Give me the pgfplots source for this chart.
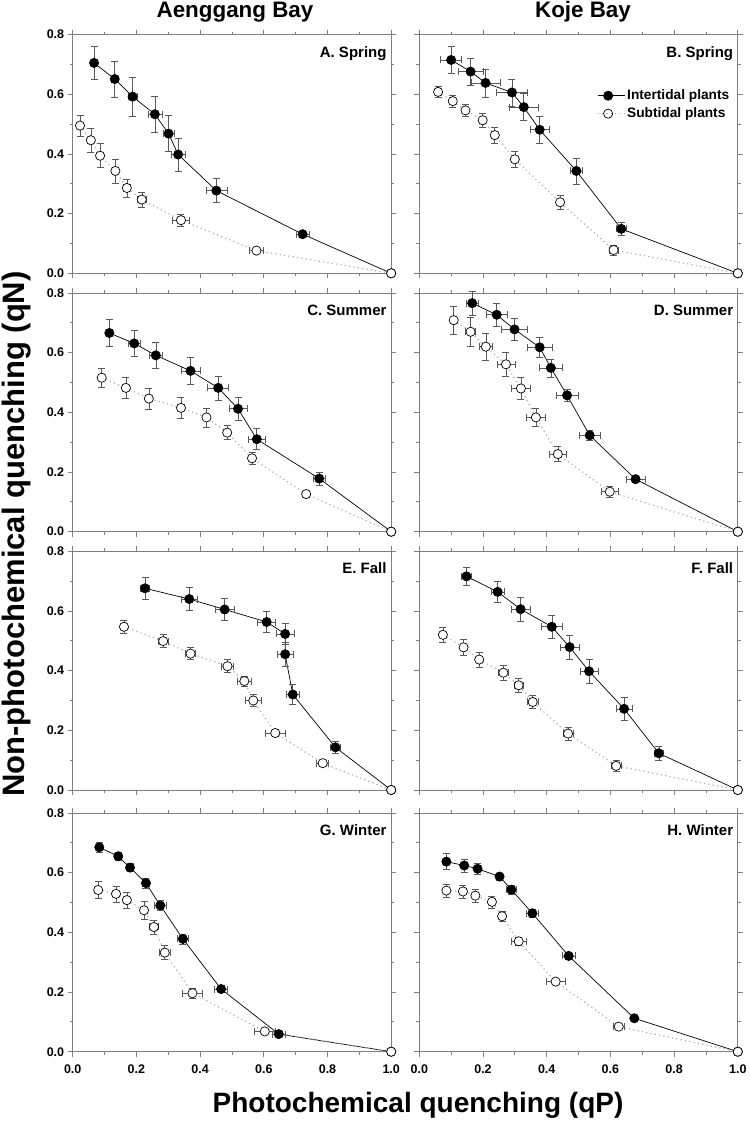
\documentclass[border=0pt]{standalone}
\usepackage{fontspec}
\setmainfont{Liberation Sans}
\usepackage{pgfplots}
\pgfplotsset{compat=1.18}
\usepackage{pgfplotstable}

\definecolor{axgray}{gray}{0.5}
\definecolor{errgray}{gray}{0.35}
\definecolor{dotgray}{gray}{0.68}

% ---------- data: x y ex ey ----------
\pgfplotstableread{
x y ex ey
0.067 0.705 0.010 0.055
0.132 0.651 0.012 0.060
0.188 0.592 0.015 0.065
0.258 0.533 0.022 0.060
0.301 0.468 0.018 0.060
0.331 0.398 0.023 0.055
0.451 0.277 0.033 0.040
0.722 0.131 0.020 0.010
1.000 0.000 0 0
}\Ai
\pgfplotstableread{
x y ex ey
0.023 0.495 0.008 0.035
0.057 0.446 0.008 0.040
0.086 0.394 0.008 0.040
0.134 0.343 0.008 0.040
0.170 0.286 0.010 0.030
0.217 0.247 0.015 0.025
0.340 0.178 0.027 0.020
0.577 0.076 0.022 0.010
1.000 0.000 0 0
}\As
\pgfplotstableread{
x y ex ey
0.100 0.715 0.033 0.045
0.161 0.676 0.040 0.045
0.208 0.638 0.045 0.047
0.291 0.606 0.049 0.045
0.328 0.557 0.045 0.045
0.378 0.481 0.031 0.046
0.493 0.343 0.020 0.044
0.634 0.149 0.015 0.022
1.000 0.000 0 0
}\Bi
\pgfplotstableread{
x y ex ey
0.059 0.608 0.008 0.018
0.105 0.577 0.008 0.021
0.145 0.546 0.008 0.020
0.199 0.513 0.008 0.024
0.237 0.463 0.008 0.027
0.300 0.382 0.008 0.028
0.442 0.238 0.008 0.024
0.610 0.078 0.015 0.017
1.000 0.000 0 0
}\Bs
\pgfplotstableread{
x y ex ey
0.115 0.666 0.010 0.045
0.193 0.631 0.020 0.043
0.261 0.591 0.020 0.043
0.370 0.539 0.030 0.044
0.457 0.482 0.033 0.040
0.519 0.412 0.028 0.040
0.578 0.310 0.026 0.035
0.774 0.178 0.020 0.022
1.000 0.000 0 0
}\Ci
\pgfplotstableread{
x y ex ey
0.091 0.516 0.008 0.033
0.167 0.482 0.008 0.034
0.239 0.446 0.008 0.035
0.340 0.415 0.008 0.035
0.420 0.383 0.008 0.032
0.485 0.332 0.008 0.023
0.563 0.246 0.008 0.020
0.733 0.126 0.008 0.010
1.000 0.000 0 0
}\Cs
\pgfplotstableread{
x y ex ey
0.166 0.766 0.020 0.040
0.243 0.727 0.034 0.037
0.299 0.678 0.040 0.036
0.378 0.618 0.040 0.034
0.413 0.549 0.035 0.030
0.464 0.457 0.035 0.020
0.535 0.323 0.033 0.018
0.679 0.176 0.030 0.011
1.000 0.000 0 0
}\Di
\pgfplotstableread{
x y ex ey
0.108 0.709 0.008 0.048
0.161 0.670 0.016 0.049
0.209 0.620 0.020 0.046
0.272 0.561 0.028 0.041
0.319 0.480 0.031 0.037
0.366 0.383 0.030 0.031
0.435 0.260 0.028 0.025
0.598 0.134 0.026 0.019
1.000 0.000 0 0
}\Ds
\pgfplotstableread{
x y ex ey
0.227 0.676 0.015 0.037
0.366 0.640 0.024 0.038
0.477 0.605 0.029 0.036
0.609 0.563 0.028 0.035
0.667 0.523 0.028 0.036
0.667 0.455 0.025 0.040
0.691 0.320 0.020 0.034
0.825 0.143 0.015 0.020
1.000 0.000 0 0
}\Ei
\pgfplotstableread{
x y ex ey
0.161 0.547 0.008 0.023
0.284 0.499 0.015 0.022
0.370 0.457 0.015 0.020
0.486 0.415 0.018 0.022
0.539 0.365 0.022 0.017
0.567 0.300 0.024 0.020
0.636 0.191 0.030 0.012
0.785 0.090 0.019 0.010
1.000 0.000 0 0
}\Es
\pgfplotstableread{
x y ex ey
0.148 0.716 0.015 0.030
0.246 0.664 0.020 0.035
0.318 0.606 0.029 0.040
0.416 0.547 0.032 0.040
0.472 0.479 0.029 0.040
0.533 0.398 0.029 0.040
0.643 0.272 0.025 0.040
0.752 0.123 0.015 0.022
1.000 0.000 0 0
}\Fi
\pgfplotstableread{
x y ex ey
0.074 0.520 0.008 0.025
0.139 0.478 0.008 0.027
0.188 0.437 0.008 0.026
0.264 0.393 0.015 0.024
0.312 0.351 0.015 0.022
0.356 0.295 0.018 0.021
0.467 0.189 0.016 0.021
0.618 0.081 0.015 0.018
1.000 0.000 0 0
}\Fs
\pgfplotstableread{
x y ex ey
0.0835 0.685 0.008 0.017
0.143 0.655 0.008 0.013
0.180 0.617 0.008 0.014
0.230 0.565 0.012 0.016
0.275 0.490 0.020 0.016
0.346 0.378 0.018 0.017
0.466 0.210 0.020 0.012
0.647 0.059 0.020 0.007
1.000 0.000 0 0
}\Gi
\pgfplotstableread{
x y ex ey
0.080 0.542 0.008 0.029
0.136 0.529 0.008 0.027
0.170 0.508 0.008 0.026
0.224 0.474 0.008 0.029
0.255 0.418 0.015 0.024
0.289 0.332 0.017 0.024
0.376 0.196 0.031 0.017
0.603 0.068 0.032 0.008
1.000 0.000 0 0
}\Gs
\pgfplotstableread{
x y ex ey
0.085 0.637 0.008 0.027
0.141 0.624 0.008 0.022
0.183 0.613 0.008 0.020
0.252 0.587 0.010 0.012
0.289 0.543 0.015 0.014
0.355 0.464 0.020 0.013
0.469 0.321 0.020 0.010
0.675 0.112 0.010 0.006
1.000 0.000 0 0
}\Hi
\pgfplotstableread{
x y ex ey
0.085 0.540 0.008 0.022
0.137 0.537 0.008 0.022
0.176 0.523 0.008 0.022
0.228 0.502 0.008 0.020
0.260 0.454 0.008 0.018
0.312 0.370 0.023 0.015
0.428 0.235 0.029 0.010
0.626 0.084 0.018 0.010
1.000 0.000 0 0
}\Hs

\tikzset{
  plab/.style={anchor=north east, inner sep=0pt, xshift=-4.5pt, yshift=-11.5pt,
    font=\fontsize{15}{17}\selectfont\bfseries},
}

\pgfplotsset{
  panel/.style={
    anchor=south west, scale only axis, width=318.5pt, height=238.7pt,
    xmin=0, xmax=1, ymin=0, ymax=0.8,
    xtick={0,0.2,0.4,0.6,0.8,1}, ytick={0,0.2,0.4,0.6,0.8},
    minor x tick num=1, minor y tick num=1,
    xticklabels={}, yticklabels={},
    tick align=outside, major tick length=5pt, minor tick length=3pt,
    axis line style={axgray, line width=0.8pt},
    tick style={axgray, line width=0.8pt},
    clip=false,
    ticklabel style={font=\fontsize{12.5}{14}\selectfont\bfseries},
    xticklabel style={yshift=-5pt},
  },
  xlab/.style={xticklabels={0.0,0.2,0.4,0.6,0.8,1.0}},
  ylab/.style={yticklabels={0.0,0.2,0.4,0.6,0.8}},
  inter/.style={black, line width=0.7pt, mark=*, mark size=4.6pt,
    mark options={solid, draw=black, fill=black},
    error bars/.cd, x dir=both, x explicit, y dir=both, y explicit,
    error bar style={errgray, line width=0.6pt, solid},
    error mark options={rotate=90, errgray, mark size=3.5pt, line width=0.6pt, solid}},
  sub/.style={dotgray, line width=1.2pt, dash pattern=on 1.2pt off 3.2pt,
    mark=*, mark size=4.6pt,
    mark options={solid, draw=black, fill=white, line width=0.7pt},
    error bars/.cd, x dir=both, x explicit, y dir=both, y explicit,
    error bar style={errgray, line width=0.6pt, solid},
    error mark options={rotate=90, errgray, mark size=3.5pt, line width=0.6pt, solid}},
}

\newcommand{\series}[2]{%
  \addplot[inter] table[x=x, y=y, x error=ex, y error=ey] {#1};
  \addplot[sub] table[x=x, y=y, x error=ex, y error=ey] {#2};
}

\begin{document}
\begin{tikzpicture}
\path[use as bounding box] (0pt,0pt) rectangle (749pt,1123pt);

% Row 1
\begin{axis}[panel, ylab, at={(72.7pt,849.7pt)}]
\series{\Ai}{\As}
\node[plab] at (rel axis cs:1,1) {A. Spring};
\end{axis}
\begin{axis}[panel, at={(419.3pt,849.7pt)},
  legend style={draw=none, fill=none, inner sep=0pt, at={(0.980,0.777)}, anchor=north east,
    font=\fontsize{13.7}{15}\selectfont\bfseries, row sep=2.5pt},
  legend cell align=left,
  legend image code/.code={\draw[mark repeat=2,mark phase=2,#1] plot coordinates {(0pt,0pt) (10.5pt,0pt) (21pt,0pt)};
     \path (0pt,0pt) -- (27pt,0pt);}]
\series{\Bi}{\Bs}
\legend{Intertidal plants, Subtidal plants}
\node[plab] at (rel axis cs:1,1) {B. Spring};
\end{axis}

% Row 2
\begin{axis}[panel, ylab, at={(72.7pt,591.3pt)}]
\series{\Ci}{\Cs}
\node[plab] at (rel axis cs:1,1) {C. Summer};
\end{axis}
\begin{axis}[panel, at={(419.3pt,591.3pt)}]
\series{\Di}{\Ds}
\node[plab] at (rel axis cs:1,1) {D. Summer};
\end{axis}

% Row 3
\begin{axis}[panel, ylab, at={(72.7pt,333.0pt)}]
\series{\Ei}{\Es}
\node[plab] at (rel axis cs:1,1) {E. Fall};
\end{axis}
\begin{axis}[panel, at={(419.3pt,333.0pt)}]
\series{\Fi}{\Fs}
\node[plab] at (rel axis cs:1,1) {F. Fall};
\end{axis}

% Row 4
\begin{axis}[panel, ylab, xlab, at={(72.7pt,71.3pt)}]
\series{\Gi}{\Gs}
\node[plab] at (rel axis cs:1,1) {G. Winter};
\end{axis}
\begin{axis}[panel, xlab, at={(419.3pt,71.3pt)}]
\series{\Hi}{\Hs}
\node[plab] at (rel axis cs:1,1) {H. Winter};
\end{axis}

% Titles and axis labels
\node[font=\fontsize{22.4}{26}\selectfont\bfseries, anchor=base] at (235pt,1105pt) {Aenggang Bay};
\node[font=\fontsize{22.4}{26}\selectfont\bfseries, anchor=base] at (583pt,1105pt) {Koje Bay};
\node[font=\fontsize{28}{32}\selectfont\bfseries, anchor=base] at (418pt,10pt) {Photochemical quenching (qP)};
\node[font=\fontsize{31}{35}\selectfont\bfseries, rotate=90, anchor=base] at (25pt,589pt) {Non-photochemical quenching (qN)};
\end{tikzpicture}
\end{document}
